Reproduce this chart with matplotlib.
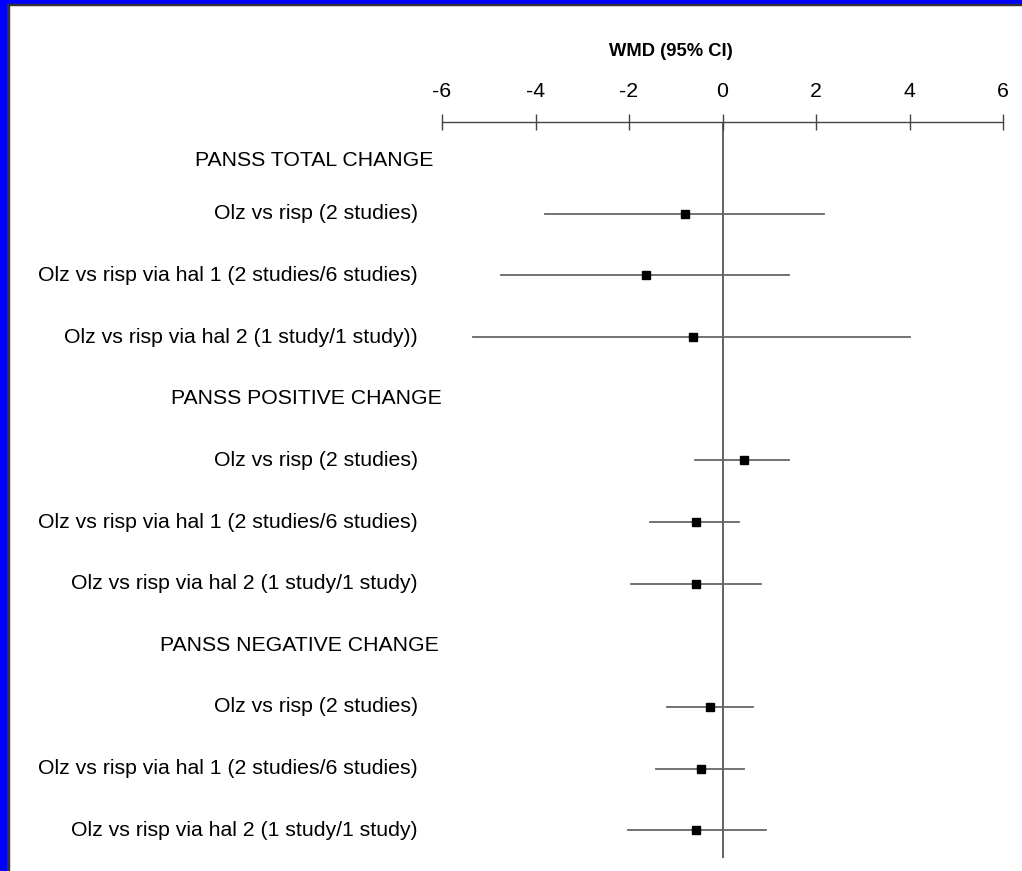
#! -*- coding: utf-8 -*-

#---------------------------------
# モジュールのインポート
#---------------------------------
import matplotlib
matplotlib.use('Agg')
import matplotlib.pyplot as plt
from matplotlib.patches import Rectangle

#---------------------------------
# データ
#---------------------------------
headers = ['PANSS TOTAL CHANGE', 'PANSS POSITIVE CHANGE', 'PANSS NEGATIVE CHANGE']
header_right_px = [433, 442, 439]

row_labels = ['Olz vs risp (2 studies)',
              'Olz vs risp via hal 1 (2 studies/6 studies)',
              'Olz vs risp via hal 2 (1 study/1 study))',
              'Olz vs risp (2 studies)',
              'Olz vs risp via hal 1 (2 studies/6 studies)',
              'Olz vs risp via hal 2 (1 study/1 study)',
              'Olz vs risp (2 studies)',
              'Olz vs risp via hal 1 (2 studies/6 studies)',
              'Olz vs risp via hal 2 (1 study/1 study)']
wmd = [-0.81, -1.63, -0.64, 0.46, -0.56, -0.56, -0.26, -0.47, -0.56]
ci_low = [-3.79, -4.73, -5.33, -0.58, -1.55, -1.95, -1.18, -1.43, -2.03]
ci_high = [2.17, 1.43, 4.00, 1.43, 0.36, 0.83, 0.66, 0.45, 0.92]

xticks = [-6, -4, -2, 0, 2, 4, 6]
xtick_labels = ['-6', '-4', '-2', '0', '2', '4', '6']

#---------------------------------
# 定数定義
#---------------------------------
W, H = 1022, 871
FONT = 'Liberation Sans'
FS = 15.3


def main():
	fig = plt.figure(figsize=(W / 100, H / 100), dpi=100, facecolor='white')

	# --- 枠線 ---
	fig.patches.append(Rectangle((0, 0), 7 / W, 1, transform=fig.transFigure, color='#0000ff', zorder=0))
	fig.patches.append(Rectangle((0, 1 - 4 / H), 1, 4 / H, transform=fig.transFigure, color='#0000ff', zorder=0))
	fig.patches.append(Rectangle((7 / W, 0), 1.5 / W, 1 - 4 / H, transform=fig.transFigure, color='#333333', zorder=0))
	fig.patches.append(Rectangle((7 / W, 1 - 5.5 / H), 1 - 7 / W, 1.5 / H, transform=fig.transFigure, color='#333333', zorder=0))

	# --- 軸 ---
	left, right = 442 / W, 1003 / W
	top, bottom = 1 - 122 / H, 1 - 858 / H
	ax = fig.add_axes([left, bottom, right - left, top - bottom])
	ax.set_xlim(-6, 6)
	ax.set_ylim(11.45, -0.49)
	for s in ['left', 'right', 'bottom']:
		ax.spines[s].set_visible(False)
	ax.spines['top'].set_color('#444444')
	ax.spines['top'].set_linewidth(1.0)
	ax.patch.set_alpha(0)
	ax.yaxis.set_visible(False)
	ax.xaxis.set_ticks_position('top')
	ax.set_xticks(xticks)
	ax.set_xticklabels(xtick_labels, fontname=FONT, fontsize=FS)
	ax.tick_params(axis='x', direction='inout', length=12, width=1.0, color='#444444', pad=9)

	# --- タイトル ---
	fig.text(671 / W, 1 - 51 / H, 'WMD (95% CI)', ha='center', va='center',
		fontname=FONT, fontsize=13.2, fontweight='bold')

	# --- ゼロ線 ---
	ax.axvline(0, color='#555555', lw=1.3, zorder=1)

	# --- 行 ---
	header_rows = [0.13, 4, 8]
	y = 0
	k = 0
	for g in range(3):
		ydisp = ax.transData.transform((0, header_rows[g]))[1]
		fig.text(header_right_px[g] / W, ydisp / H, headers[g], fontname=FONT, fontsize=FS,
			ha='right', va='center')
		y += 1
		for j in range(3):
			ax.plot([ci_low[k], ci_high[k]], [y, y], color='#666666', lw=1.3, zorder=2)
			ax.plot(wmd[k], y, marker='s', color='black', ms=6, zorder=3)
			ydisp = ax.transData.transform((0, y))[1]
			fig.text(418 / W, ydisp / H, row_labels[k], fontname=FONT, fontsize=FS,
				ha='right', va='center')
			k += 1
			y += 1

	fig.savefig('out.png', dpi=100, facecolor='white')
	plt.close(fig)


if __name__ == '__main__':
	main()
